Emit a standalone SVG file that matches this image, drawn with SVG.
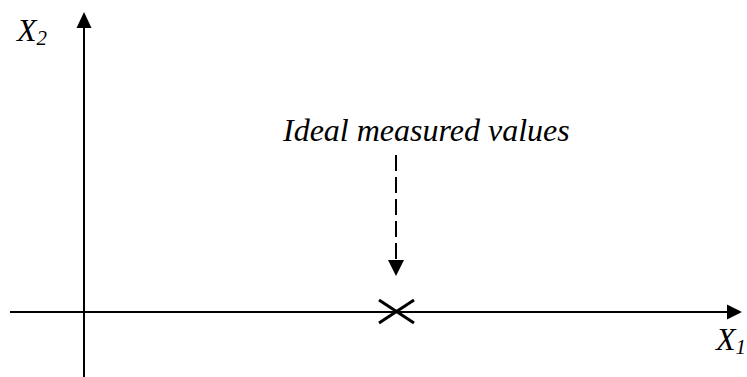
<svg xmlns="http://www.w3.org/2000/svg" width="747" height="377" viewBox="0 0 747 377">
<style>
text{font-family:'Liberation Serif','Times New Roman',Times,serif;font-style:italic;fill:#000}
.ax{stroke:#000;stroke-width:2;fill:none}
</style>
<rect width="747" height="377" fill="#fff"/>
<g id="connectors">
<line class="ax" x1="84" y1="27" x2="84" y2="377"/>
<polygon points="84,12 76.5,28 91.5,28" fill="#000"/>
<line class="ax" x1="10" y1="312" x2="728" y2="312"/>
<polygon points="742,312 727,304.5 727,319.5" fill="#000"/>
<line x1="396" y1="155" x2="396" y2="261" stroke="#000" stroke-width="2" stroke-dasharray="16,6"/>
<polygon points="396,276 388,260 404,260" fill="#000"/>
</g>
<g id="cross">
<line x1="379" y1="300" x2="414" y2="323" stroke="#000" stroke-width="3"/>
<line x1="379" y1="323" x2="414" y2="300" stroke="#000" stroke-width="3"/>
</g>
<g id="label-ideal">
<text x="283" y="141" font-size="32">Ideal measured values</text>
</g>
<g id="label-x2">
<text x="17" y="41" font-size="32">X<tspan font-size="21" dy="4">2</tspan></text>
</g>
<g id="label-x1">
<text x="716" y="350" font-size="32">X<tspan font-size="21" dy="4">1</tspan></text>
</g>
</svg>
